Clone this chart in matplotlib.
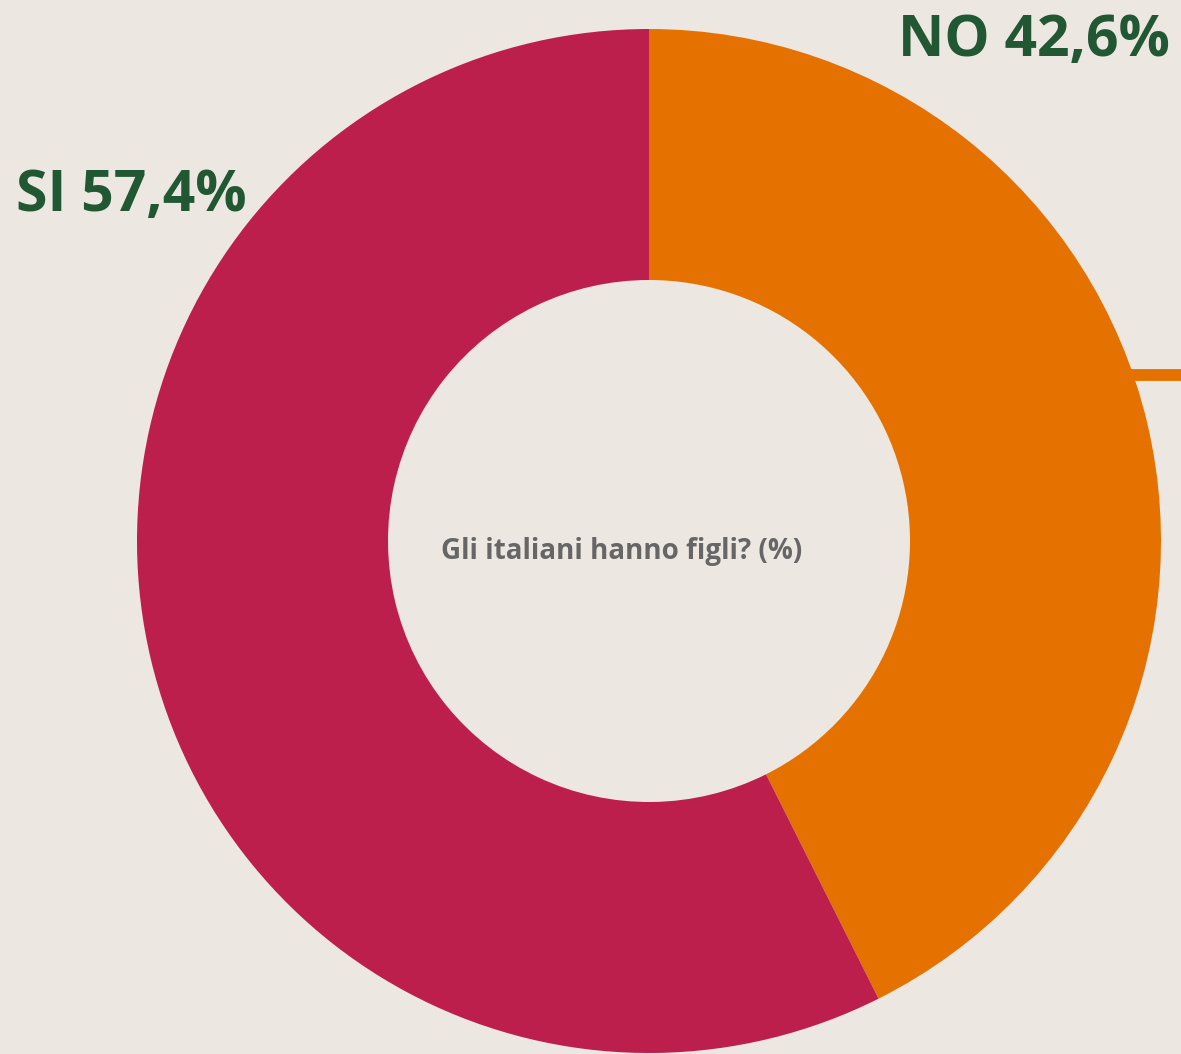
import matplotlib.pyplot as plt
import numpy as np

# data
labels = ["NO", "SI"]
values = [42.6, 57.4]
colors = ["#E57200", "#BD1F4D"]
title = "Gli italiani hanno figli? (%)"

bg = "#ECE7E1"
green = "#215732"

W, H = 1181, 1054
fig = plt.figure(figsize=(W / 100, H / 100), dpi=100, facecolor=bg)
ax = fig.add_axes([0, 0, 1, 1])
ax.set_facecolor(bg)

cx, cy, r = 649, H - 541, 512
ax.pie(values, colors=colors, startangle=90, counterclock=False,
       center=(cx, cy), radius=r, frame=True,
       wedgeprops=dict(width=251, linewidth=0))
ax.set_xlim(0, W)
ax.set_ylim(0, H)
ax.set_aspect("equal")
ax.axis("off")

# leader stub on the NO slice
ang = np.arcsin(166 / r)
x0 = cx + r * np.cos(ang)
ax.plot([x0 - 2, W], [cy + 166, cy + 166], color=colors[0], lw=8.5,
        solid_capstyle="butt")

font = ["Open Sans", "DejaVu Sans"]
ax.text(1170, H - 56, f"{labels[0]} {values[0]:.1f}%".replace(".", ","),
        ha="right", va="baseline", fontsize=41, fontweight="bold",
        color=green, family=font)
ax.text(16, H - 211, f"{labels[1]} {values[1]:.1f}%".replace(".", ","),
        ha="left", va="baseline", fontsize=41, fontweight="bold",
        color=green, family=font)
ax.text(622, H - 552, title, ha="center", va="center", fontsize=20,
        fontweight="bold", color="#666666", family=font)

fig.savefig("out.png", dpi=100, facecolor=bg)
